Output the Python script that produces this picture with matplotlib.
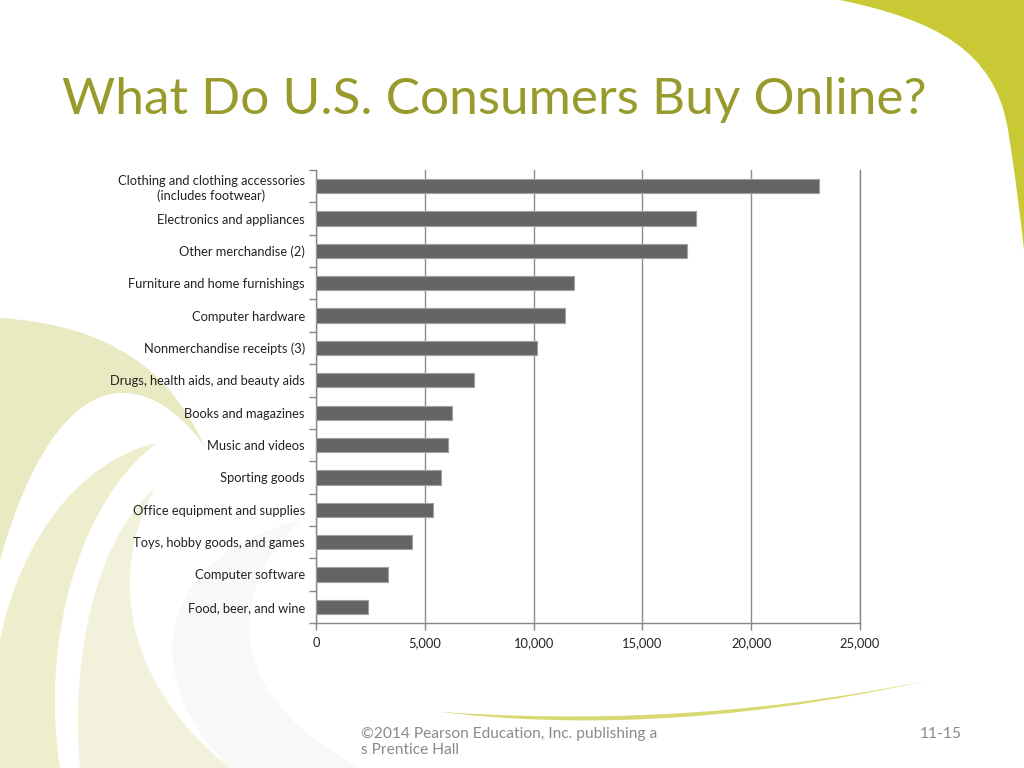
import matplotlib
matplotlib.use("Agg")
import matplotlib.pyplot as plt
from matplotlib.path import Path
from matplotlib.patches import PathPatch
from matplotlib.ticker import FixedLocator

categories = [
    "Clothing and clothing accessories\n(includes footwear)",
    "Electronics and appliances",
    "Other merchandise (2)",
    "Furniture and home furnishings",
    "Computer hardware",
    "Nonmerchandise receipts (3)",
    "Drugs, health aids, and beauty aids",
    "Books and magazines",
    "Music and videos",
    "Sporting goods",
    "Office equipment and supplies",
    "Toys, hobby goods, and games",
    "Computer software",
    "Food, beer, and wine",
]
values = [23130, 17450, 17030, 11870, 11430, 10140, 7240, 6240, 6060, 5730, 5360, 4390, 3320, 2390]
xticks = [0, 5000, 10000, 15000, 20000, 25000]
xtick_labels = ["0", "5,000", "10,000", "15,000", "20,000", "25,000"]

title = "What Do U.S. Consumers Buy Online?"
footer = "©2014 Pearson Education, Inc. publishing a\ns Prentice Hall"
page = "11-15"

plt.rcParams['font.family'] = ['Lato', 'DejaVu Sans']

fig = plt.figure(figsize=(10.24, 7.68), dpi=100)
fig.patch.set_facecolor("white")

# background decoration axes in pixel coordinates
bg = fig.add_axes([0, 0, 1, 1], zorder=0)
bg.set_xlim(0, 1024)
bg.set_ylim(768, 0)
bg.axis("off")

def shape(verts, codes, color, alpha=1.0):
    p = PathPatch(Path(verts, codes), facecolor=color, edgecolor="none", alpha=alpha)
    bg.add_patch(p)

M, C, L, Z = Path.MOVETO, Path.CURVE4, Path.LINETO, Path.CLOSEPOLY

# top-right green swoosh
shape([(840, 0), (935, 20), (995, 50), (1008, 130), (1016, 180), (1020, 215), (1024, 250),
       (1024, 0), (840, 0)],
      [M, C, C, C, C, C, C, L, Z], "#c9c935")

# left pale swirls
shape([(0, 318), (110, 325), (170, 370), (205, 447),
       (150, 370), (60, 350), (0, 560), (0, 318)],
      [M, C, C, C, C, C, C, Z], "#e8e9bf", 0.95)
shape([(157, 443), (80, 460), (20, 540), (0, 640),
       (0, 768), (60, 768),
       (40, 640), (80, 500), (157, 443)],
      [M, C, C, C, L, L, C, C, C], "#eeeecb", 0.95)
shape([(155, 488), (95, 540), (70, 660), (80, 768),
       (230, 768), (120, 680), (110, 570), (155, 488)],
      [M, C, C, C, L, C, C, C], "#f2f2da", 0.95)
# faint grey sweep bottom-left
shape([(230, 768), (140, 680), (150, 560), (300, 520),
       (220, 600), (230, 700), (360, 768), (230, 768)],
      [M, C, C, C, C, C, C, Z], "#f7f7f5", 0.8)

# bottom thin swoosh
shape([(440, 712), (560, 726), (720, 727), (930, 680),
       (740, 719), (580, 721), (440, 712)],
      [M, C, C, C, C, C, C], "#c9c935", 0.7)

# title
fig.text(62 / 1024, 1 - 100 / 768, title, fontsize=37, color="#999a2c",
         ha="left", va="center")

# footer
fig.text(361 / 1024, 1 - 742 / 768, footer, fontsize=11.2, color="#8a8a8a",
         ha="left", va="center", linespacing=1.15)
fig.text(962 / 1024, 1 - 734 / 768, page, fontsize=11.2, color="#8a8a8a",
         ha="right", va="center")

# chart
ax = fig.add_axes([316 / 1024, 1 - 623 / 768, (860 - 316) / 1024, (623 - 170) / 768], zorder=2)
ax.patch.set_alpha(0)
n = len(categories)
ypos = list(range(n))
ax.barh(ypos, values, height=0.44, color="#646464", edgecolor="#a0a0a0", linewidth=0.8, zorder=3)
ax.set_ylim(n - 0.5, -0.5)
ax.set_xlim(0, 25000)
ax.set_xticks(xticks)
ax.set_xticklabels(xtick_labels, fontsize=9.3, color="#222222")
ax.set_yticks(ypos)
ax.set_yticklabels(categories, fontsize=9.3, color="#222222", multialignment="center")
ax.tick_params(axis="y", which="major", length=0, pad=8)
ax.yaxis.set_minor_locator(FixedLocator([i - 0.5 for i in range(n + 1)]))
ax.tick_params(axis="y", which="minor", length=5, color="#888888", width=1)
ax.tick_params(axis="x", which="major", length=5, color="#888888", width=1, pad=5)
ax.grid(axis="x", color="#8c8c8c", linewidth=1, zorder=1)
ax.spines["top"].set_visible(False)
for s in ["left", "bottom", "right"]:
    ax.spines[s].set_color("#888888")
    ax.spines[s].set_linewidth(1)
ax.set_axisbelow(True)

fig.savefig("out.png", dpi=100)
